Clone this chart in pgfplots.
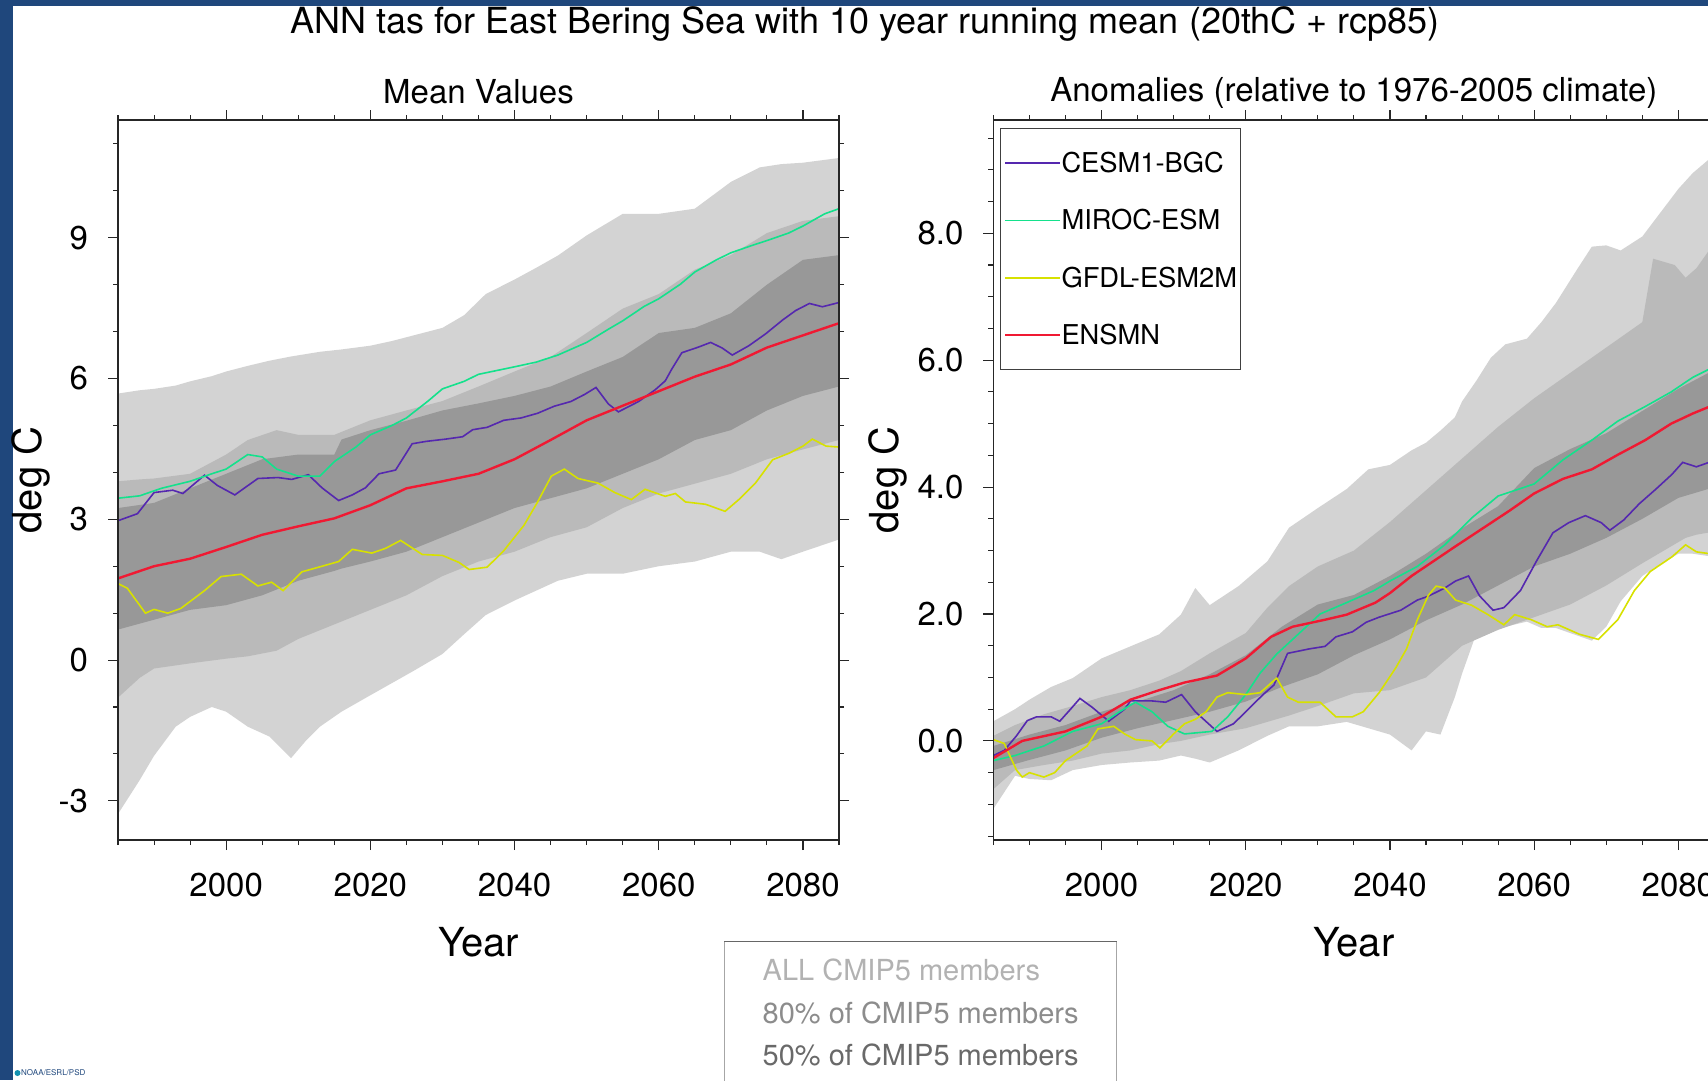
\documentclass[border=0pt]{standalone}
\usepackage{fontspec}
\setmainfont{TeX Gyre Heros}
\usepackage{pgfplots}
\usepackage{pgfplotstable}
\pgfplotsset{compat=1.18}
\usepgfplotslibrary{fillbetween}

\definecolor{allc}{RGB}{211,211,211}
\definecolor{p80c}{RGB}{186,186,186}
\definecolor{p50c}{RGB}{152,152,152}
\definecolor{cesm}{RGB}{85,40,175}
\definecolor{miroc}{RGB}{20,225,140}
\definecolor{gfdl}{RGB}{215,225,0}
\definecolor{ensmn}{RGB}{240,25,50}
\definecolor{noaablue}{RGB}{31,71,124}

% ---------------- Left panel: mean values ----------------
\pgfplotstableread{
year hi lo
1985 5.68 -3.28
1988 5.75 -2.56
1990 5.78 -2.04
1993 5.85 -1.42
1995 5.94 -1.21
1998 6.05 -1.00
2000 6.15 -1.10
2003 6.27 -1.42
2006 6.38 -1.63
2009 6.47 -2.09
2011 6.52 -1.73
2013 6.57 -1.42
2016 6.62 -1.10
2020 6.70 -0.75
2023 6.80 -0.49
2026 6.92 -0.23
2030 7.08 0.13
2033 7.35 0.55
2036 7.80 0.96
2040 8.11 1.27
2043 8.36 1.48
2046 8.62 1.69
2050 9.05 1.84
2055 9.51 1.84
2060 9.51 2.00
2065 9.62 2.10
2070 10.19 2.31
2074 10.50 2.31
2077 10.57 2.15
2080 10.60 2.31
2085 10.70 2.57
}\LallT

\pgfplotstableread{
year hi lo
1985 3.81 -0.80
1988 3.85 -0.38
1990 3.87 -0.18
1995 3.97 -0.07
2000 4.38 0.03
2003 4.69 0.08
2007 4.90 0.20
2010 4.80 0.45
2015 4.80 0.76
2020 5.11 1.07
2025 5.32 1.38
2030 5.52 1.79
2035 5.83 2.10
2040 6.15 2.31
2045 6.46 2.62
2050 6.97 2.83
2055 7.49 3.24
2060 7.80 3.55
2065 8.32 3.76
2070 8.63 3.97
2075 9.10 4.28
2080 9.36 4.49
2085 9.46 4.69
}\LpeiT

\pgfplotstableread{
year hi lo
1985 3.24 0.65
1990 3.35 0.86
1995 3.66 1.07
2000 3.97 1.17
2005 4.28 1.38
2010 4.38 1.69
2015 4.38 1.90
2016 4.70 1.95
2020 4.90 2.10
2025 5.10 2.31
2030 5.32 2.62
2035 5.47 2.93
2040 5.63 3.24
2045 5.83 3.45
2050 6.15 3.66
2055 6.46 3.97
2060 6.97 4.28
2065 7.08 4.69
2070 7.39 4.90
2075 8.00 5.32
2080 8.53 5.63
2085 8.63 5.83
}\LpfiT

\pgfplotstableread{
year val
1985 2.97
1987.7 3.12
1990 3.57
1992.6 3.62
1994 3.55
1997 3.94
1998.8 3.72
2001.2 3.52
2004.4 3.87
2007.2 3.89
2009.1 3.85
2011.4 3.95
2013.3 3.67
2015.6 3.40
2017.5 3.52
2019.3 3.67
2021.2 3.97
2023.5 4.05
2025.8 4.61
2027.7 4.66
2030.5 4.71
2032.8 4.76
2034.2 4.91
2036.2 4.96
2038.5 5.11
2040.9 5.16
2043.2 5.26
2045.5 5.41
2047.8 5.51
2049.7 5.66
2051.3 5.81
2053 5.46
2054.4 5.29
2057.2 5.51
2059.5 5.76
2060.9 5.95
2061.8 6.20
2063.2 6.55
2065.5 6.67
2067.2 6.77
2068.8 6.65
2070.2 6.50
2072.5 6.70
2074.8 6.95
2077.2 7.25
2079 7.45
2080.9 7.60
2082.7 7.53
2085 7.62
}\LcesmT

\pgfplotstableread{
year val
1985 3.45
1988 3.50
1991 3.66
1995 3.81
1998 3.97
2000 4.07
2003 4.38
2005 4.33
2007 4.07
2010 3.92
2013 3.92
2015 4.23
2018 4.54
2020 4.80
2023 5.00
2025 5.16
2028 5.52
2030 5.78
2033 5.94
2035 6.09
2040 6.25
2043 6.35
2046 6.50
2050 6.77
2053 7.05
2055 7.23
2058 7.54
2060 7.70
2063 8.01
2065 8.27
2068 8.53
2070 8.68
2073 8.84
2075 8.94
2078 9.10
2080 9.25
2083 9.51
2085 9.62
}\LmirocT

\pgfplotstableread{
year val
1985 1.63
1986.3 1.53
1988.8 1.00
1990 1.08
1991.9 1.00
1993.7 1.10
1997 1.48
1999.3 1.78
2002.1 1.83
2004.4 1.58
2006.3 1.66
2007.9 1.48
2010.5 1.88
2013.3 2.00
2015.6 2.10
2017.5 2.36
2020.2 2.28
2022.1 2.38
2024.2 2.55
2027.2 2.25
2030 2.23
2032.3 2.08
2033.7 1.93
2036.2 1.98
2038.5 2.33
2041.3 2.87
2043.2 3.37
2045.1 3.92
2046.9 4.07
2048.8 3.87
2051.6 3.77
2053.9 3.57
2056.2 3.42
2058.1 3.64
2060.9 3.49
2062.3 3.55
2063.7 3.37
2066.5 3.32
2069.2 3.17
2071.1 3.42
2073.4 3.77
2075.8 4.27
2078.1 4.41
2080 4.56
2081.3 4.71
2083.2 4.56
2085 4.54
}\LgfdlT

\pgfplotstableread{
year val
1985 1.74
1990 2.00
1995 2.16
2000 2.41
2005 2.67
2010 2.85
2015 3.02
2020 3.30
2025 3.66
2030 3.81
2035 3.97
2040 4.28
2045 4.69
2050 5.11
2055 5.42
2060 5.73
2065 6.04
2070 6.30
2075 6.66
2080 6.92
2085 7.18
}\LensT

% ---------------- Right panel: anomalies ----------------
\pgfplotstableread{
year hi lo
1985 0.31 -1.07
1988 0.50 -0.55
1990 0.65 -0.60
1993 0.85 -0.62
1996 0.99 -0.46
2000 1.30 -0.38
2004 1.49 -0.34
2008 1.68 -0.31
2011 1.99 -0.23
2013 2.41 -0.28
2015 2.14 -0.34
2019 2.44 -0.15
2023 2.83 0.08
2026 3.36 0.23
2030 3.67 0.23
2034 3.97 0.30
2037 4.28 0.20
2040 4.35 0.10
2043 4.58 -0.15
2045 4.70 0.15
2047 4.89 0.10
2049 5.10 0.69
2050 5.35 1.06
2052 5.68 1.70
2054 6.04 1.85
2056 6.25 1.80
2059 6.34 1.88
2061 6.60 1.78
2063 6.90 1.78
2066 7.44 1.66
2068 7.79 1.58
2070 7.81 1.80
2072 7.73 2.20
2075 7.95 2.60
2077 8.25 2.75
2080 8.70 2.95
2082 8.95 2.95
2085 9.24 2.90
}\RallT

\pgfplotstableread{
year hi lo
1985 0.08 -0.76
1988 0.25 -0.46
1992 0.42 -0.38
1996 0.55 -0.31
2000 0.69 -0.20
2004 0.80 -0.15
2008 0.95 -0.05
2011 1.10 0.00
2015 1.38 0.10
2020 1.70 0.20
2023 2.10 0.30
2026 2.44 0.40
2030 2.75 0.55
2035 3.00 0.75
2040 3.45 0.80
2045 3.95 1.00
2050 4.45 1.50
2055 4.95 1.75
2060 5.40 1.95
2065 5.80 2.15
2070 6.20 2.45
2075 6.60 2.80
2076.5 7.60 2.90
2079.5 7.50 3.10
2081 7.30 3.20
2082.5 7.45 3.25
2085 7.85 3.30
}\RpeiT

\pgfplotstableread{
year hi lo
1985 -0.08 -0.46
1990 0.10 -0.30
1995 0.25 -0.15
2000 0.46 0.05
2005 0.62 0.20
2010 0.80 0.33
2015 1.05 0.46
2020 1.35 0.62
2025 1.80 0.85
2030 2.15 1.05
2035 2.30 1.35
2040 2.60 1.60
2045 2.95 1.90
2050 3.35 2.15
2055 3.70 2.45
2060 4.30 2.75
2065 4.60 2.95
2070 4.85 3.20
2075 5.20 3.50
2080 5.55 3.83
2085 5.85 4.00
}\RpfiT

\pgfplotstableread{
year val
1985 -0.23
1986.5 -0.15
1988.2 0.08
1989.7 0.32
1991 0.38
1993 0.38
1994.2 0.31
1995.7 0.50
1997 0.67
1998.7 0.53
2001 0.31
2003.2 0.50
2004 0.63
2007 0.63
2008.9 0.61
2011.1 0.73
2013 0.46
2016 0.15
2018.3 0.27
2020 0.46
2022.4 0.73
2023.9 0.88
2025.8 1.38
2028.8 1.45
2031 1.49
2032.5 1.64
2034.8 1.72
2036.7 1.87
2038.5 1.95
2041.5 2.06
2043.8 2.22
2045.3 2.28
2047.6 2.41
2049.1 2.52
2050.9 2.60
2052.4 2.29
2054.3 2.06
2055.8 2.10
2058.1 2.37
2060.3 2.83
2062.6 3.28
2064.8 3.44
2067.1 3.55
2069.3 3.44
2070.5 3.32
2072.4 3.48
2074.6 3.74
2076.9 3.97
2079.1 4.20
2080.6 4.39
2082.5 4.32
2085 4.42
}\RcesmT

\pgfplotstableread{
year val
1985 -0.31
1988 -0.23
1992 -0.08
1996 0.15
2000 0.27
2002.5 0.46
2004.7 0.61
2007 0.46
2009.2 0.23
2011.5 0.11
2015.3 0.15
2017.5 0.38
2020 0.73
2022 1.07
2024.3 1.37
2026.5 1.60
2030.3 2.00
2034 2.18
2037.8 2.37
2040 2.52
2043.8 2.75
2047.6 3.09
2051.3 3.51
2055 3.86
2060 4.05
2064 4.43
2068 4.74
2071.6 5.04
2075.4 5.27
2079 5.50
2082 5.73
2085 5.90
}\RmirocT

\pgfplotstableread{
year val
1985 0.02
1986.5 -0.04
1988.2 -0.46
1989 -0.57
1990 -0.50
1992 -0.57
1993.5 -0.50
1995 -0.31
1998 -0.08
1999.5 0.19
2001.7 0.23
2003.2 0.11
2004.7 0.02
2007 0.00
2008.1 -0.11
2010 0.11
2011.5 0.27
2013 0.34
2014.5 0.46
2016 0.69
2017.5 0.76
2020 0.73
2022 0.76
2024.3 0.99
2025.8 0.69
2027.3 0.61
2030.3 0.61
2032.5 0.38
2034.8 0.38
2036.3 0.46
2038.5 0.76
2040.8 1.15
2042.3 1.45
2043.8 1.91
2045.3 2.29
2046.4 2.44
2047.6 2.41
2049.1 2.22
2051.3 2.14
2053.6 1.99
2055.8 1.83
2057.3 1.99
2059.6 1.91
2061.8 1.80
2063.3 1.83
2066.3 1.68
2068.9 1.60
2071.6 1.91
2073.9 2.37
2076.1 2.67
2079.1 2.90
2081 3.09
2082.5 2.98
2085 2.94
}\RgfdlT

\pgfplotstableread{
year val
1985 -0.27
1989 0.00
1995 0.15
2000 0.38
2004 0.65
2008 0.80
2011.5 0.92
2016 1.03
2020 1.30
2023.5 1.64
2026.5 1.80
2031 1.91
2034 1.99
2038 2.18
2040 2.33
2043 2.60
2046 2.83
2049 3.06
2053 3.36
2056.6 3.63
2060 3.90
2064 4.13
2068 4.28
2071.6 4.51
2075.4 4.74
2079 5.00
2082 5.16
2085 5.30
}\RensT

\pgfplotsset{
  panel/.style={
    scale only axis, width=721pt, height=720pt,
    xmin=1985, xmax=2085,
    axis on top,
    axis line style={line width=1.3pt, black!85},
    tick align=outside,
    major tick length=10pt, minor tick length=5pt,
    every tick/.style={black!85, line width=1.1pt},
    xtick={2000,2020,2040,2060,2080},
    xticklabels={2000,2020,2040,2060,2080},
    minor xtick={1985,1990,...,2085},
    tick label style={font=\fontsize{33}{33}\selectfont},
    xticklabel style={anchor=north, inner sep=0pt, yshift=-22.9pt},
    yticklabel style={anchor=east, inner sep=0pt, xshift=-19.8pt},
    label style={font=\fontsize{40}{40}\selectfont},
    xlabel style={at={(axis description cs:0.5,-0.162)}, anchor=base},
    title style={font=\fontsize{33}{33}\selectfont, anchor=base},
    xlabel={Year},
    ylabel={deg C},
  },
  band/.style={draw=none, forget plot},
  model/.style={line width=1.6pt},
  ens/.style={line width=2.4pt},
}

\begin{document}
\begin{tikzpicture}
% frame decorations of the original slide
\fill[noaablue] (0pt,0pt) rectangle (13pt,-1080pt);
\fill[noaablue] (0pt,0pt) rectangle (1708pt,-5.5pt);

\node[anchor=base, font=\fontsize{36}{36}\selectfont] at (865pt,-33.5pt)
  {ANN tas for East Bering Sea with 10 year running mean (20thC + rcp85)};

% ---------------- Left ----------------
\begin{axis}[panel,
  at={(118pt,-120pt)}, anchor=north west,
  ymin=-3.835, ymax=11.51,
  ytick={-3,0,3,6,9}, yticklabels={-3,0,3,6,9},
  minor ytick={-3,-2,...,11},
  ylabel style={at={(axis description cs:-0.1208,0.5)}, anchor=center},
  title={Mean Values},
  title style={at={(axis description cs:0.5,1.0145)}},
]
\addplot[band, name path=LaH] table[x=year,y=hi]{\LallT};
\addplot[band, name path=LaL] table[x=year,y=lo]{\LallT};
\addplot[fill=allc, draw=none, forget plot] fill between[of=LaH and LaL];
\addplot[band, name path=LeH] table[x=year,y=hi]{\LpeiT};
\addplot[band, name path=LeL] table[x=year,y=lo]{\LpeiT};
\addplot[fill=p80c, draw=none, forget plot] fill between[of=LeH and LeL];
\addplot[band, name path=LfH] table[x=year,y=hi]{\LpfiT};
\addplot[band, name path=LfL] table[x=year,y=lo]{\LpfiT};
\addplot[fill=p50c, draw=none, forget plot] fill between[of=LfH and LfL];
\addplot[cesm, model] table[x=year,y=val]{\LcesmT};
\addplot[miroc, model] table[x=year,y=val]{\LmirocT};
\addplot[gfdl, model] table[x=year,y=val]{\LgfdlT};
\addplot[ensmn, ens] table[x=year,y=val]{\LensT};
\end{axis}

% ---------------- Right ----------------
\begin{axis}[panel,
  at={(993.4pt,-120pt)}, anchor=north west,
  ymin=-1.562, ymax=9.786,
  ytick={0,2,4,6,8}, yticklabels={0.0,2.0,4.0,6.0,8.0},
  minor ytick={-1.5,-1,...,9.5},
  ylabel style={at={(axis description cs:-0.1465,0.5)}, anchor=center},
  title={Anomalies (relative to 1976-2005 climate)},
  title style={at={(axis description cs:0.5,1.0175)}},
  legend style={
    at={(axis description cs:0.00915,0.9893)}, anchor=north west,
    draw=black!75, line width=1.2pt, fill=white,
    inner xsep=3.5pt, inner ysep=23.7pt,
    row sep=35.5pt,
    font=\fontsize{27.3}{27.3}\selectfont,
    nodes={inner sep=0pt, anchor=west},
    /tikz/every even column/.append style={column sep=0pt},
  },
  legend cell align=left,
  legend image code/.code={\draw[#1] (0pt,0pt) -- (55pt,0pt);},
]
\addplot[band, name path=RaH] table[x=year,y=hi]{\RallT};
\addplot[band, name path=RaL] table[x=year,y=lo]{\RallT};
\addplot[fill=allc, draw=none, forget plot] fill between[of=RaH and RaL];
\addplot[band, name path=ReH] table[x=year,y=hi]{\RpeiT};
\addplot[band, name path=ReL] table[x=year,y=lo]{\RpeiT};
\addplot[fill=p80c, draw=none, forget plot] fill between[of=ReH and ReL];
\addplot[band, name path=RfH] table[x=year,y=hi]{\RpfiT};
\addplot[band, name path=RfL] table[x=year,y=lo]{\RpfiT};
\addplot[fill=p50c, draw=none, forget plot] fill between[of=RfH and RfL];
\addplot[cesm, model] table[x=year,y=val]{\RcesmT};
\addlegendentry{CESM1-BGC}
\addplot[miroc, model] table[x=year,y=val]{\RmirocT};
\addlegendentry{MIROC-ESM}
\addplot[gfdl, model] table[x=year,y=val]{\RgfdlT};
\addlegendentry{GFDL-ESM2M}
\addplot[ensmn, ens] table[x=year,y=val]{\RensT};
\addlegendentry{ENSMN}
\end{axis}

% shading key below the panels
\draw[black!35, line width=1pt] (724.4pt,-1090pt) -- (724.4pt,-941.2pt) -- (1116.5pt,-941.2pt) -- (1116.5pt,-1090pt);
\draw[black!60, line width=1.2pt] (724.4pt,-941.2pt) -- (1116.5pt,-941.2pt);
\node[anchor=base west, inner sep=0pt, font=\fontsize{29}{29}\selectfont, text={rgb,255:red,178;green,178;blue,178}] at (762.5pt,-980.4pt) {ALL CMIP5 members};
\node[anchor=base west, inner sep=0pt, font=\fontsize{29}{29}\selectfont, text={rgb,255:red,140;green,140;blue,140}] at (762.5pt,-1023pt) {80\% of CMIP5 members};
\node[anchor=base west, inner sep=0pt, font=\fontsize{29}{29}\selectfont, text={rgb,255:red,105;green,105;blue,105}] at (762.5pt,-1065.3pt) {50\% of CMIP5 members};

% small credit
\fill[noaablue!60!cyan] (17.5pt,-1073pt) circle (3pt);
\node[anchor=west, inner sep=0pt, font=\fontsize{8}{8}\selectfont, text=noaablue] at (21pt,-1073pt) {NOAA/ESRL/PSD};

\pgfresetboundingbox
\useasboundingbox (0pt,0pt) rectangle (1708pt,-1080pt);
\end{tikzpicture}
\end{document}
